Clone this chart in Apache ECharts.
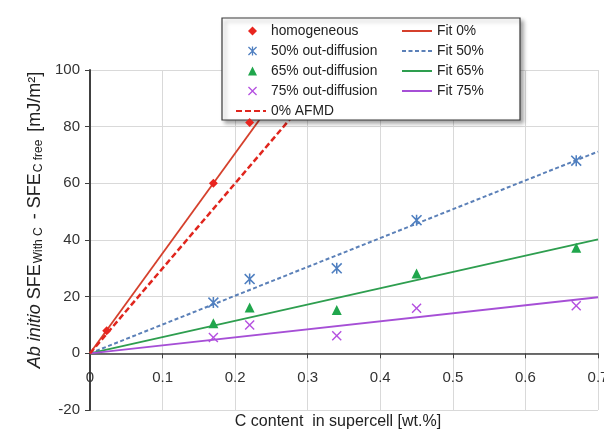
<!DOCTYPE html>
<html><head><meta charset="utf-8">
<script src="https://cdn.jsdelivr.net/npm/echarts@6/dist/echarts.min.js"></script>
<style>html,body{margin:0;padding:0;background:#fff}#c{width:604px;height:432px}</style>
</head><body><div id="c"></div>
<script>
// ---- data ----
const homogeneous = [[0.023, 8], [0.17, 60], [0.22, 81.5]];
const out50 = [[0.17, 17.9], [0.22, 26.2], [0.34, 30], [0.45, 47], [0.67, 68]];
const out65 = [[0.17, 10.6], [0.22, 16.2], [0.34, 15.3], [0.45, 28.2], [0.67, 37.3]];
const out75 = [[0.17, 5.6], [0.22, 10], [0.34, 6.2], [0.45, 15.9], [0.67, 16.8]];
const fit0 = [[0, 0], [0.3, 105.9]];
const fit50 = [[0, 0], [0.7, 71.2]];
const fit65 = [[0, 0], [0.7, 40.2]];
const fit75 = [[0, 0], [0.7, 19.8]];
const afmd0 = [[0, 0], [0.35, 105]];
const xMin = 0, xMax = 0.7, xStep = 0.1;
const yMin = -20, yMax = 100, yStep = 20;
const scatterNames = ['homogeneous', '50% out-diffusion', '65% out-diffusion', '75% out-diffusion'];
const fitNames = ['Fit 0%', 'Fit 50%', 'Fit 65%', 'Fit 75%'];
const afmdName = '0% AFMD';

const FONT = '"Liberation Sans", Arial, sans-serif';
const X_PATH = 'path://M0,1L1,0L5,4L9,0L10,1L6,5L10,9L9,10L5,6L1,10L0,9L4,5Z';
const STAR_PATH = 'path://M0,1L1,0L5,4L9,0L10,1L6,5L10,9L9,10L5,6L1,10L0,9L4,5Z M4.3,0L5.7,0L5.7,10L4.3,10Z';

const GRID = {left: 90, right: 6, top: 70, bottom: 22};
const gridH = 432 - GRID.top - GRID.bottom;
const zeroOffset = -gridH * (0 - yMin) / (yMax - yMin);

const chart = echarts.init(document.getElementById('c'), null, {renderer: 'canvas'});
const legendText = {fontSize: 13.8, color: '#222', fontFamily: FONT, lineHeight: 14};
chart.setOption({
  animation: false,
  backgroundColor: '#fff',
  grid: Object.assign({containLabel: false, outerBoundsMode: 'none'}, GRID),
  xAxis: {
    type: 'value', min: xMin, max: xMax, interval: xStep,
    offset: zeroOffset,
    axisLine: {show: true, onZero: false, lineStyle: {color: '#404040', width: 1.5}},
    axisTick: {show: true, length: 5, lineStyle: {color: '#404040'}},
    axisLabel: {fontSize: 15, color: '#333', fontFamily: FONT, margin: 17,
      formatter: v => v === 0 ? '0' : v.toFixed(1)},
    splitLine: {show: true, lineStyle: {color: '#d9d9d9', width: 1}}
  },
  yAxis: {
    type: 'value', min: yMin, max: yMax, interval: yStep,
    axisLine: {show: true, onZero: false, lineStyle: {color: '#404040', width: 2}},
    axisTick: {show: true, length: 5, lineStyle: {color: '#404040'}},
    axisLabel: {fontSize: 15, color: '#333', fontFamily: FONT, margin: 10},
    splitLine: {show: true, lineStyle: {color: '#d9d9d9', width: 1}}
  },
  legend: [
    {data: scatterNames, orient: 'vertical', left: 243, top: 19, itemWidth: 9, itemHeight: 9,
     itemGap: 6, textStyle: Object.assign({padding: [0, 0, 0, 9]}, legendText), z: 5},
    {data: fitNames, orient: 'vertical', left: 396, top: 19, itemWidth: 30, itemHeight: 14,
     itemGap: 6, textStyle: legendText, itemStyle: {opacity: 0}, z: 5},
    {data: [afmdName], orient: 'vertical', left: 230, top: 99, itemWidth: 30, itemHeight: 14,
     textStyle: legendText, itemStyle: {opacity: 0}, z: 5}
  ],
  graphic: {elements: [
    {type: 'rect', z: 3, shape: {x: 222, y: 18, width: 298, height: 102},
     style: {fill: '#fff', stroke: '#3a3a3a', lineWidth: 1.2,
       shadowBlur: 4, shadowOffsetX: 3, shadowOffsetY: 3, shadowColor: 'rgba(0,0,0,0.35)'}},
    {type: 'text', z: 3, x: 338, y: 422,
     style: {text: 'C content  in supercell [wt.%]', fontSize: 16, fontFamily: FONT, fill: '#222',
       align: 'center', verticalAlign: 'middle'}},
    {type: 'text', z: 3, x: 35, y: 220, rotation: Math.PI / 2,
     style: {
       text: '{i|Ab initio} SFE{s|With C} - SFE{s|C free} [mJ/m²]',
       fontSize: 18, fontFamily: FONT, fill: '#222', align: 'center', verticalAlign: 'middle',
       rich: {
         i: {fontSize: 18, fontStyle: 'italic', fontFamily: FONT, fill: '#222'},
         s: {fontSize: 12, fontFamily: FONT, fill: '#222', verticalAlign: 'bottom', padding: [7, 3, 0, 1]}
       }
     }}
  ]},
  series: [
    {name: fitNames[0], type: 'line', data: fit0, symbol: 'none', lineStyle: {color: '#D5402C', width: 1.8}, itemStyle: {color: '#D5402C'}, z: 2},
    {name: fitNames[1], type: 'line', data: fit50, symbol: 'none', lineStyle: {color: '#5B80B8', width: 2, type: [4, 2.5]}, itemStyle: {color: '#5B80B8'}, z: 2},
    {name: fitNames[2], type: 'line', data: fit65, symbol: 'none', lineStyle: {color: '#2E9E4F', width: 1.8}, itemStyle: {color: '#2E9E4F'}, z: 2},
    {name: fitNames[3], type: 'line', data: fit75, symbol: 'none', lineStyle: {color: '#A64FD6', width: 1.8}, itemStyle: {color: '#A64FD6'}, z: 2},
    {name: afmdName, type: 'line', data: afmd0, symbol: 'none', lineStyle: {color: '#E0261E', width: 2.5, type: [6, 3]}, itemStyle: {color: '#E0261E'}, z: 2},
    {name: scatterNames[0], type: 'scatter', data: homogeneous, symbol: 'diamond', symbolSize: 9, itemStyle: {color: '#E8251F', opacity: 1}, z: 3},
    {name: scatterNames[1], type: 'scatter', data: out50, symbol: STAR_PATH, symbolSize: 11, itemStyle: {color: '#4F7FC0', opacity: 1}, z: 3},
    {name: scatterNames[2], type: 'scatter', data: out65, symbol: 'triangle', symbolSize: 10, itemStyle: {color: '#20A64C', opacity: 1}, z: 3},
    {name: scatterNames[3], type: 'scatter', data: out75, symbol: X_PATH, symbolSize: 10, itemStyle: {color: '#B44FE0', opacity: 1}, z: 3}
  ]
});
</script>
</body></html>
